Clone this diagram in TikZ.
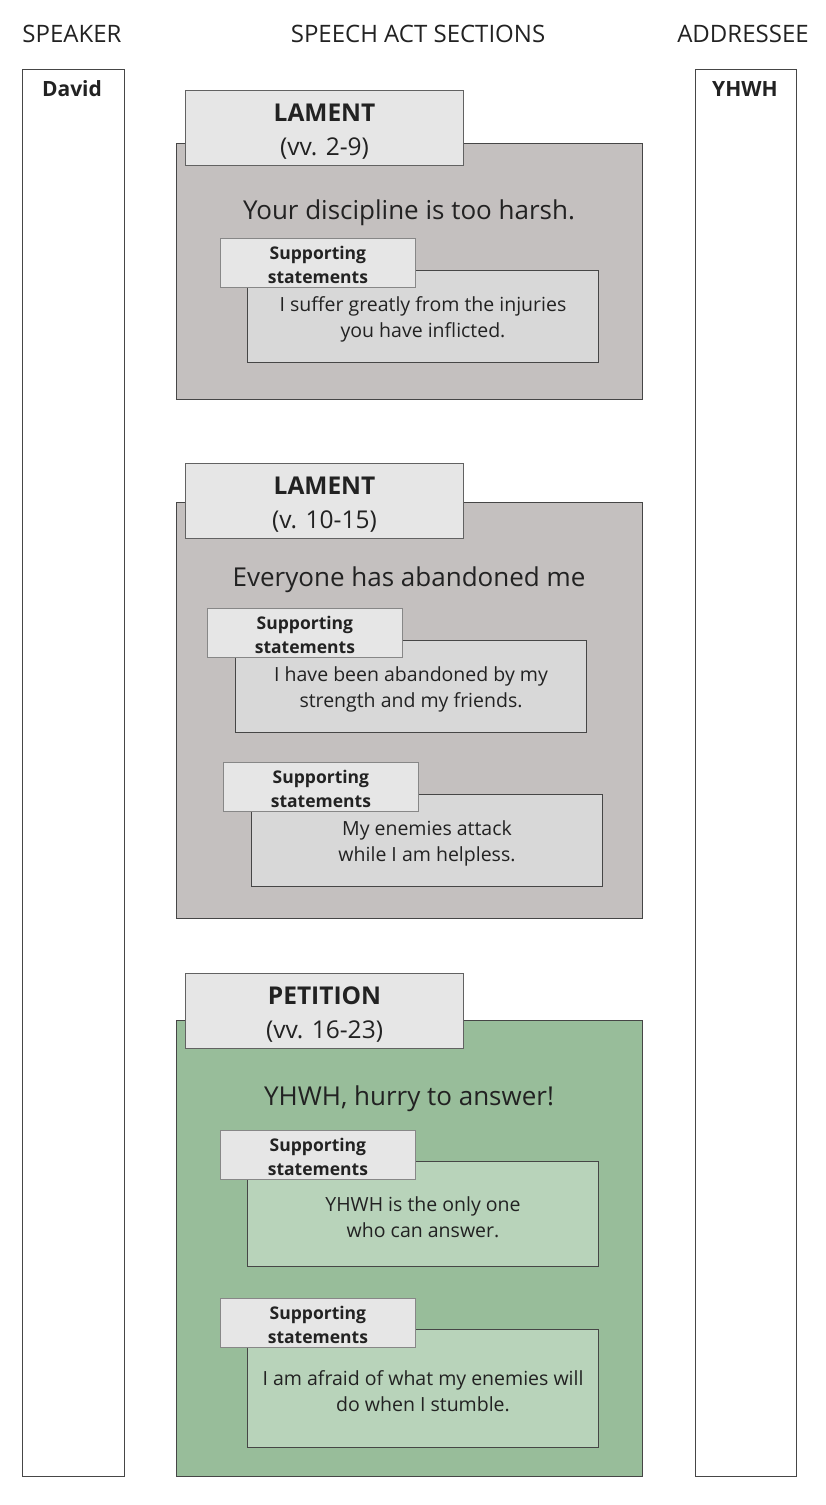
\documentclass[tikz,border=0pt]{standalone}
\usepackage{fontspec}
\setmainfont{Open Sans}
\usepackage{tikz}
\definecolor{edgegray}{RGB}{70, 70, 70}
\definecolor{secgray}{RGB}{196, 192, 191}
\definecolor{tabgray}{RGB}{230, 230, 230}
\definecolor{stmtgray}{RGB}{216, 216, 216}
\definecolor{secgreen}{RGB}{152, 189, 154}
\definecolor{stmtgreen}{RGB}{184, 211, 186}
\definecolor{inkgray}{RGB}{34, 34, 34}

\begin{document}
\begin{tikzpicture}[x=1pt, y=-1pt,
  head/.style={font=\fontsize{24}{28}\selectfont, text=inkgray},
  who/.style={font=\fontsize{21}{24}\selectfont\bfseries, text=inkgray},
  col/.style={draw=edgegray, fill=white, line width=1pt, anchor=north west, inner sep=0pt, minimum width=101pt, minimum height=1407pt},
  secbox/.style={draw=edgegray, line width=1pt, anchor=north west, inner sep=0pt, minimum width=466pt},
  tabbox/.style={draw=edgegray!85, fill=tabgray, line width=1pt, anchor=north west, inner sep=0pt, minimum width=278pt, minimum height=75pt, align=center, text=inkgray, font=\fontsize{24.5}{34}\selectfont},
  mainline/.style={font=\fontsize{26}{30}\selectfont, text=inkgray},
  stmtbox/.style={draw=edgegray, line width=1pt, anchor=north west, inner sep=0pt, minimum width=351pt, align=center, text=inkgray, font=\fontsize{19.5}{26}\selectfont},
  supbox/.style={draw=edgegray!65, fill=tabgray, line width=0.8pt, anchor=north west, inner sep=0pt, minimum width=195pt, minimum height=49pt, align=center, text=inkgray, font=\fontsize{17.5}{24}\selectfont\bfseries}
]
  \useasboundingbox (0,0) rectangle (825,1505);

  % Headings
  \node[head] (hspeaker) at (72,34) {SPEAKER};
  \node[head] (hsections) at (418,34) {SPEECH ACT SECTIONS};
  \node[head] (haddressee) at (743,34) {ADDRESSEE};

  % Speaker and addressee columns
  \node[col, minimum width=102pt] (speaker) at (22,69) {};
  \node[who] (david) at (72,89) {David};
  \node[col] (addressee) at (695,69) {};
  \node[who] (yhwh) at (745,89) {YHWH};

  % Lament 1
  \node[secbox, fill=secgray, minimum height=256pt] (sec1) at (176,143) {};
  \node[tabbox] (tab1) at (185,90) {\rule{0pt}{24pt}\textbf{LAMENT}\\(vv. 2-9)};
  \node[mainline] (main1) at (409,213) {Your discipline is too harsh.};
  \node[stmtbox, fill=stmtgray, minimum height=92pt] (st1a) at (247,270) {\rule{0pt}{20.5pt}I suffer greatly from the injuries\\you have inflicted.};
  \node[supbox] (sup1a) at (220,238) {\rule{0pt}{16.5pt}Supporting\\statements};

  % Lament 2
  \node[secbox, fill=secgray, minimum height=416pt] (sec2) at (176,502) {};
  \node[tabbox] (tab2) at (185,463) {\rule{0pt}{24pt}\textbf{LAMENT}\\(v. 10-15)};
  \node[mainline] (main2) at (409,580) {Everyone has abandoned me};
  \node[stmtbox, fill=stmtgray, minimum height=92pt] (st2a) at (235,640) {\rule{0pt}{20.5pt}I have been abandoned by my\\strength and my friends.};
  \node[supbox] (sup2a) at (207,608) {\rule{0pt}{16.5pt}Supporting\\statements};
  \node[stmtbox, fill=stmtgray, minimum height=92pt] (st2b) at (251,794) {\rule{0pt}{20.5pt}My enemies attack\\while I am helpless.};
  \node[supbox] (sup2b) at (223,762) {\rule{0pt}{16.5pt}Supporting\\statements};

  % Petition
  \node[secbox, fill=secgreen, minimum height=456pt] (sec3) at (176,1020) {};
  \node[tabbox] (tab3) at (185,973) {\rule{0pt}{24pt}\textbf{PETITION}\\(vv. 16-23)};
  \node[mainline] (main3) at (409,1099) {YHWH, hurry to answer!};
  \node[stmtbox, fill=stmtgreen, minimum height=105pt] (st3a) at (247,1161) {\rule{0pt}{20.5pt}YHWH is the only one\\who can answer.};
  \node[supbox] (sup3a) at (220,1130) {\rule{0pt}{16.5pt}Supporting\\statements};
  \node[stmtbox, fill=stmtgreen, minimum height=118pt] (st3b) at (247,1329) {\rule{0pt}{20.5pt}I am afraid of what my enemies will\\do when I stumble.};
  \node[supbox] (sup3b) at (220,1298) {\rule{0pt}{16.5pt}Supporting\\statements};
\end{tikzpicture}
\end{document}
